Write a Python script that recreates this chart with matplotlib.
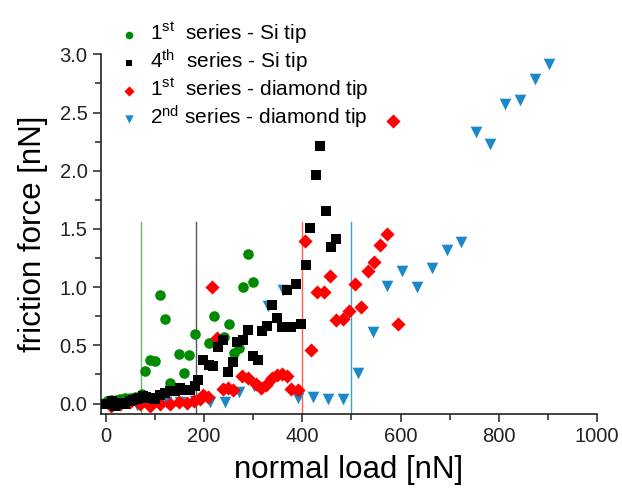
import matplotlib
matplotlib.use("Agg")
import matplotlib.pyplot as plt
from matplotlib.ticker import MultipleLocator

plt.rcParams['font.family'] = ['Liberation Sans', 'DejaVu Sans']
plt.rcParams['mathtext.fontset'] = 'custom'
plt.rcParams['mathtext.rm'] = 'Liberation Sans'
plt.rcParams['mathtext.it'] = 'Liberation Sans:italic'

# ---- data ----
si1_x = [2, 10, 20, 30, 40, 50, 60, 73, 81, 90, 100, 110, 121, 131, 150, 160, 170, 182,
         210, 220, 229, 241, 251, 261, 271, 280, 290, 300]
si1_y = [0.02, 0.03, 0.03, 0.04, 0.05, 0.05, 0.06, 0.08, 0.283, 0.371, 0.363, 0.935, 0.73,
         0.177, 0.426, 0.263, 0.42, 0.60, 0.52, 0.75, 0.555, 0.57, 0.68, 0.435, 0.48, 1.0,
         1.286, 1.04]

si4_x = [0, 5, 12, 19, 29, 39, 49, 56, 63, 70, 76, 83, 90, 100, 110, 121, 131, 141, 151,
         161, 171, 182, 188, 198, 210, 219, 229, 239, 249, 260, 268, 280, 289, 299, 309,
         319, 329, 339, 349, 359, 368, 378, 388, 398, 407, 415, 428, 437, 448, 458, 468]
si4_y = [0.0, 0.0, 0.02, -0.02, 0.005, 0.0, 0.02, 0.03, 0.035, 0.05, 0.063, 0.06, 0.049,
         0.035, 0.077, 0.09, 0.105, 0.105, 0.134, 0.12, 0.12, 0.149, 0.206, 0.377, 0.334,
         0.32, 0.486, 0.549, 0.27, 0.357, 0.526, 0.549, 0.635, 0.406, 0.377, 0.62, 0.669,
         0.843, 0.735, 0.655, 0.972, 0.658, 1.027, 0.686, 1.192, 1.51, 1.964, 2.213, 1.658,
         1.349, 1.412]

dia1_x = [10, 30, 50, 70, 90, 110, 130, 150, 165, 180, 192, 199, 208, 216, 226, 239, 249,
          260, 277, 290, 305, 317, 327, 338, 348, 358, 368, 378, 392, 405, 418, 430, 444,
          456, 468, 482, 495, 508, 519, 533, 546, 558, 572, 584, 595]
dia1_y = [-0.02, 0.0, 0.01, 0.0, -0.02, 0.0, 0.0, 0.01, 0.006, 0.02, 0.04, 0.077, 0.06,
          0.998, 0.563, 0.128, 0.134, 0.12, 0.234, 0.22, 0.17, 0.134, 0.163, 0.22, 0.249,
          0.255, 0.234, 0.128, 0.12, 1.398, 0.463, 0.958, 0.958, 1.1, 0.72, 0.729, 0.797,
          1.029, 0.829, 1.143, 1.215, 1.358, 1.455, 2.427, 0.683]

dia2_x = [32, 63, 93, 122, 152, 182, 212, 243, 272, 302, 330, 360, 392, 422, 453, 482, 513,
          543, 573, 603, 633, 663, 694, 723, 754, 783, 813, 844, 873, 903]
dia2_y = [-0.01, -0.01, 0.0, 0.01, 0.015, 0.02, 0.01, 0.015, 0.095, 0.155, 0.835, 0.978,
          0.05, 0.054, 0.04, 0.04, 0.263, 0.615, 1.006, 1.143, 1.0, 1.164, 1.315, 1.392,
          2.33, 2.23, 2.575, 2.61, 2.785, 2.92]

vline_x = [72, 183, 399, 500]
vline_colors = ['#66bb66', '#555555', '#ff5a5a', '#3aa0d0']
vline_top = 1.56

labels = [r'1$^{\mathrm{st}}$  series - Si tip',
          r'4$^{\mathrm{th}}$  series - Si tip',
          r'1$^{\mathrm{st}}$  series - diamond tip',
          r'2$^{\mathrm{nd}}$ series - diamond tip']

# ---- figure ----
fig = plt.figure(figsize=(6.22, 4.92), dpi=100)
ax = fig.add_axes([0.162, 0.1585, 0.798, 0.731])

for xv, c in zip(vline_x, vline_colors):
    ax.plot([xv, xv], [-0.09, vline_top], color=c, lw=1.0, zorder=1)

h1 = ax.scatter(si1_x, si1_y, s=58, marker='o', color='#008a00', linewidths=0, zorder=3)
h2 = ax.scatter(si4_x, si4_y, s=42, marker='s', color='#000000', linewidths=0, zorder=4)
h3 = ax.scatter(dia1_x, dia1_y, s=52, marker='D', color='#ff0000', linewidths=0, zorder=3)
h4 = ax.scatter(dia2_x, dia2_y, s=70, marker='v', color='#1a88c9', linewidths=0, zorder=2)

ax.set_xlim(-10, 1000)
ax.set_ylim(-0.09, 3.0)
ax.xaxis.set_major_locator(MultipleLocator(200))
ax.xaxis.set_minor_locator(MultipleLocator(100))
ax.yaxis.set_major_locator(MultipleLocator(0.5))
ax.yaxis.set_minor_locator(MultipleLocator(0.25))
ax.yaxis.set_major_formatter(plt.FuncFormatter(lambda v, p: f'{v:.1f}'))

for s in ['top', 'right']:
    ax.spines[s].set_visible(False)
for s in ['left', 'bottom']:
    ax.spines[s].set_linewidth(1.2)
    ax.spines[s].set_color('#222222')
ax.spines['bottom'].set_bounds(-10, 1000)
ax.spines['left'].set_bounds(-0.09, 3.0)

ax.tick_params(which='major', direction='out', length=6, width=1.1, labelsize=14.5,
               colors='#222222')
ax.tick_params(which='minor', direction='out', length=4, width=1.1, colors='#222222')

ax.set_xlabel('normal load [nN]', fontsize=22.5, labelpad=6)
ax.set_ylabel('friction force [nN]', fontsize=22.5, labelpad=8)

leg = fig.legend([h1, h2, h3, h4], labels, loc='upper left',
                 bbox_to_anchor=(0.168, 0.988), frameon=False, fontsize=15,
                 handletextpad=0.5, labelspacing=0.08, markerscale=0.72,
                 handlelength=1.0, borderaxespad=0.3)

fig.savefig('out.png', dpi=100)
